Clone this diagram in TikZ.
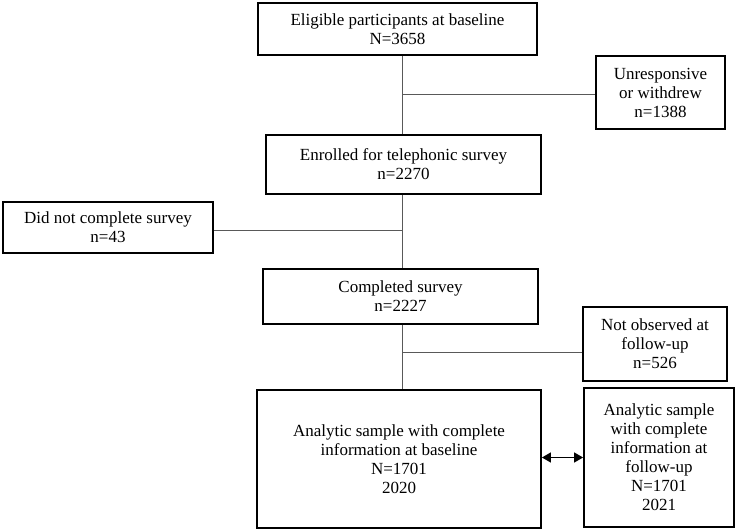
\documentclass[tikz,border=0pt]{standalone}
\usepackage{fontspec}
\setmainfont{Liberation Serif}
\usetikzlibrary{arrows.meta}
\begin{document}
\begin{tikzpicture}[x=1pt,y=-1pt,
  box/.style={draw=black,line width=1.8pt,rectangle,align=center,inner sep=0pt,
    font=\fontsize{17}{19}\selectfont},
  conn/.style={draw=black!65,line width=1pt},
  dbl/.style={draw=black,line width=1.3pt,{Triangle[length=9pt,width=10pt]}-{Triangle[length=9pt,width=10pt]}}]
\useasboundingbox (0,0) rectangle (736,532);
\node[box,minimum width=279pt,minimum height=52pt] (b1) at (397.5,29) {Eligible participants at baseline\\N=3658};
\node[box,minimum width=129pt,minimum height=73pt] (un) at (660.5,92.5) {Unresponsive\\or withdrew\\n=1388};
\node[box,minimum width=275pt,minimum height=59pt] (b2) at (403.5,164.5) {Enrolled for telephonic survey\\n=2270};
\node[box,minimum width=210pt,minimum height=51pt] (dn) at (108,227.5) {Did not complete survey\\n=43};
\node[box,minimum width=275pt,minimum height=55pt] (b3) at (400.5,296.5) {Completed survey\\n=2227};
\node[box,minimum width=144pt,minimum height=74pt] (no) at (655,344) {Not observed at\\follow-up\\n=526};
\node[box,minimum width=284pt,minimum height=138pt] (b4) at (399,459) {Analytic sample with complete\\information at baseline\\N=1701\\2020};
\node[box,minimum width=150pt,minimum height=139pt] (b5) at (659,457.5) {Analytic sample\\with complete\\information at\\follow-up\\N=1701\\2021};
\coordinate (t) at (402.5,0);
\coordinate (j1) at (402.5,95);
\coordinate (j2) at (402.5,230);
\coordinate (j3) at (402.5,352);
\coordinate (a) at (0,457.5);
\draw[conn] (b1.south -| t) -- (b2.north -| t);
\draw[conn] (j1) -- (j1 -| un.west);
\draw[conn] (b2.south -| t) -- (b3.north -| t);
\draw[conn] (j2) -- (j2 -| dn.east);
\draw[conn] (b3.south -| t) -- (b4.north -| t);
\draw[conn] (j3) -- (j3 -| no.west);
\draw[dbl] (b4.east |- a) -- (b5.west |- a);
\end{tikzpicture}
\end{document}
